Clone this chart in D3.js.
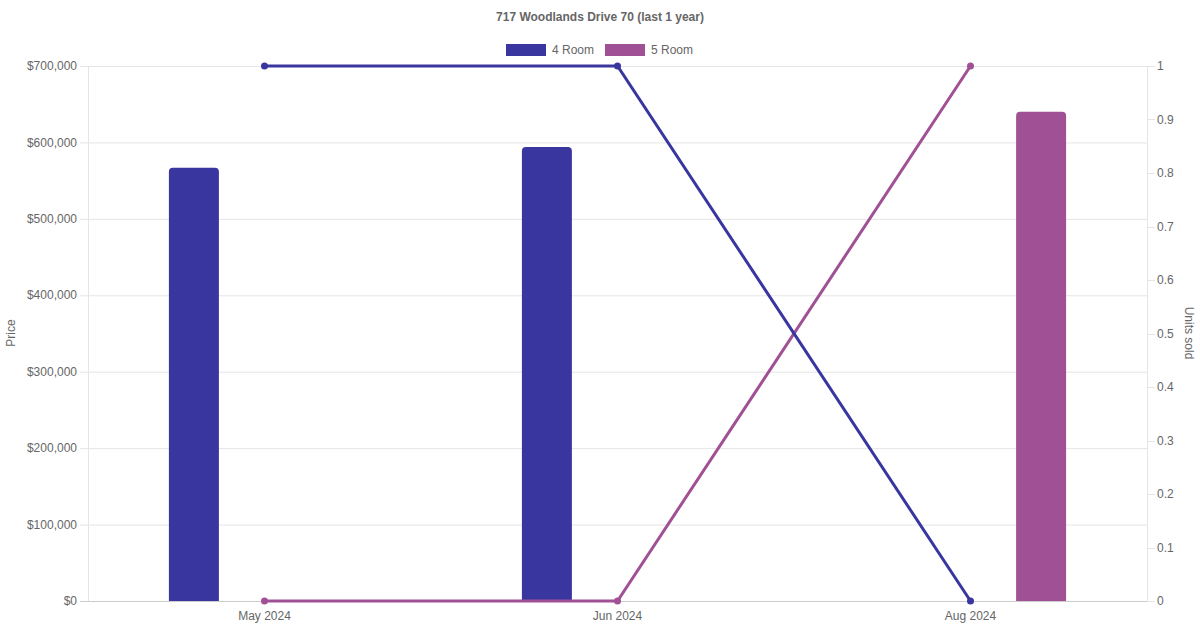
<!DOCTYPE html>
<html><head><meta charset="utf-8">
<script src="https://cdn.jsdelivr.net/npm/d3@7"></script>
<style>body{margin:0;background:#fff;font-family:"Liberation Sans",Arial,Helvetica,sans-serif;}</style>
</head><body>
<svg id="c" width="1200" height="630"></svg>
<script>
const title = "717 Woodlands Drive 70 (last 1 year)";
const categories = ["May 2024", "Jun 2024", "Aug 2024"];
const seriesNames = ["4 Room", "5 Room"];
const seriesColors = ["#3a36a0", "#a05195"];
const price4Room = [567000, 594000, null];
const price5Room = [null, null, 640000];
const units4Room = [1, 1, 0];
const units5Room = [0, 0, 1];
const priceTicks = [0, 100000, 200000, 300000, 400000, 500000, 600000, 700000];
const unitTicks = [0, 0.1, 0.2, 0.3, 0.4, 0.5, 0.6, 0.7, 0.8, 0.9, 1];

const svg = d3.select("#c");
const m = {l: 88, r: 1147, t: 66, b: 601};
const textColor = "#666";
const fontSize = 12;

const x = d3.scaleBand().domain(categories).range([m.l, m.r]).paddingInner(0).paddingOuter(0);
const inner = d3.scaleBand().domain(seriesNames).range([0, x.bandwidth()]).paddingInner(0).paddingOuter(0.25);
const yP = d3.scaleLinear().domain([0, 700000]).range([m.b, m.t]);
const yU = d3.scaleLinear().domain([0, 1]).range([m.b, m.t]);

// gridlines
svg.append("g").selectAll("line").data(priceTicks).join("line")
  .attr("x1", m.l - 8).attr("x2", m.r)
  .attr("y1", d => yP(d) + 0.5).attr("y2", d => yP(d) + 0.5)
  .attr("stroke", d => d === 0 ? "#ccc" : "#e5e5e5").attr("stroke-width", 1);
// right ticks
svg.append("g").selectAll("line").data(unitTicks).join("line")
  .attr("x1", m.r).attr("x2", m.r + 8)
  .attr("y1", d => Math.round(yU(d)) + 0.5).attr("y2", d => Math.round(yU(d)) + 0.5)
  .attr("stroke", "#e5e5e5");
// vertical axis borders
svg.append("line").attr("x1", m.l + 0.5).attr("x2", m.l + 0.5).attr("y1", m.t).attr("y2", m.b).attr("stroke", "#e5e5e5");
svg.append("line").attr("x1", m.r + 0.5).attr("x2", m.r + 0.5).attr("y1", m.t).attr("y2", m.b).attr("stroke", "#e5e5e5");
// bottom axis line
svg.append("line").attr("x1", m.l).attr("x2", m.r).attr("y1", m.b + 0.5).attr("y2", m.b + 0.5).attr("stroke", "#ccc");

// left labels
svg.append("g").selectAll("text").data(priceTicks).join("text")
  .attr("x", 77).attr("y", d => yP(d)).attr("dy", "0.35em")
  .attr("text-anchor", "end").attr("fill", textColor).attr("font-size", fontSize)
  .text(d => "$" + d3.format(",")(d));
// right labels
svg.append("g").selectAll("text").data(unitTicks).join("text")
  .attr("x", 1157).attr("y", d => yU(d)).attr("dy", "0.35em")
  .attr("text-anchor", "start").attr("fill", textColor).attr("font-size", fontSize)
  .text(d => d3.format("~g")(d));
// x labels
svg.append("g").selectAll("text").data(categories).join("text")
  .attr("x", d => x(d) + x.bandwidth() / 2).attr("y", 620)
  .attr("text-anchor", "middle").attr("fill", textColor).attr("font-size", fontSize)
  .text(d => d);

// axis titles
svg.append("text").attr("transform", "translate(15,333) rotate(-90)")
  .attr("text-anchor", "middle").attr("fill", textColor).attr("font-size", fontSize).text("Price");
svg.append("text").attr("transform", "translate(1185,333) rotate(90)")
  .attr("text-anchor", "middle").attr("fill", textColor).attr("font-size", fontSize).text("Units sold");

// title
svg.append("text").attr("x", 600).attr("y", 21).attr("text-anchor", "middle")
  .attr("fill", textColor).attr("font-size", fontSize).attr("font-weight", "bold").text(title);

// legend
const legend = [{name: seriesNames[0], color: seriesColors[0], x: 506}, {name: seriesNames[1], color: seriesColors[1], x: 605}];
legend.forEach(l => {
  svg.append("rect").attr("x", l.x).attr("y", 44).attr("width", 40).attr("height", 12).attr("fill", l.color);
  svg.append("text").attr("x", l.x + 46).attr("y", 50).attr("dy", "0.35em").attr("fill", textColor)
    .attr("font-size", fontSize).text(l.name);
});

// bars
const barW = 50;
function roundTopPath(x0, y0, w, h, r) {
  r = Math.min(r, h);
  return `M${x0},${y0 + h}V${y0 + r}Q${x0},${y0} ${x0 + r},${y0}H${x0 + w - r}Q${x0 + w},${y0} ${x0 + w},${y0 + r}V${y0 + h}Z`;
}
const priceSeries = [price4Room, price5Room];
priceSeries.forEach((vals, si) => {
  svg.append("g").selectAll("path").data(categories.map((c, i) => ({c, v: vals[i]})).filter(d => d.v != null)).join("path")
    .attr("d", d => {
      const cx = x(d.c) + inner(seriesNames[si]) + inner.bandwidth() / 2;
      const y0 = yP(d.v);
      return roundTopPath(cx - barW / 2, y0, barW, m.b - y0, 4);
    })
    .attr("fill", seriesColors[si]);
});

// lines
const unitSeries = [units4Room, units5Room];
const lineGen = d3.line().x(d => x(d.c) + x.bandwidth() / 2).y(d => yU(d.v));
[1, 0].forEach(si => {
  const pts = categories.map((c, i) => ({c, v: unitSeries[si][i]}));
  svg.append("path").datum(pts).attr("d", lineGen).attr("fill", "none")
    .attr("stroke", seriesColors[si]).attr("stroke-width", 3);
  svg.append("g").selectAll("circle").data(pts).join("circle")
    .attr("cx", d => x(d.c) + x.bandwidth() / 2).attr("cy", d => yU(d.v)).attr("r", 3.5)
    .attr("fill", seriesColors[si]);
});
</script>
</body></html>
